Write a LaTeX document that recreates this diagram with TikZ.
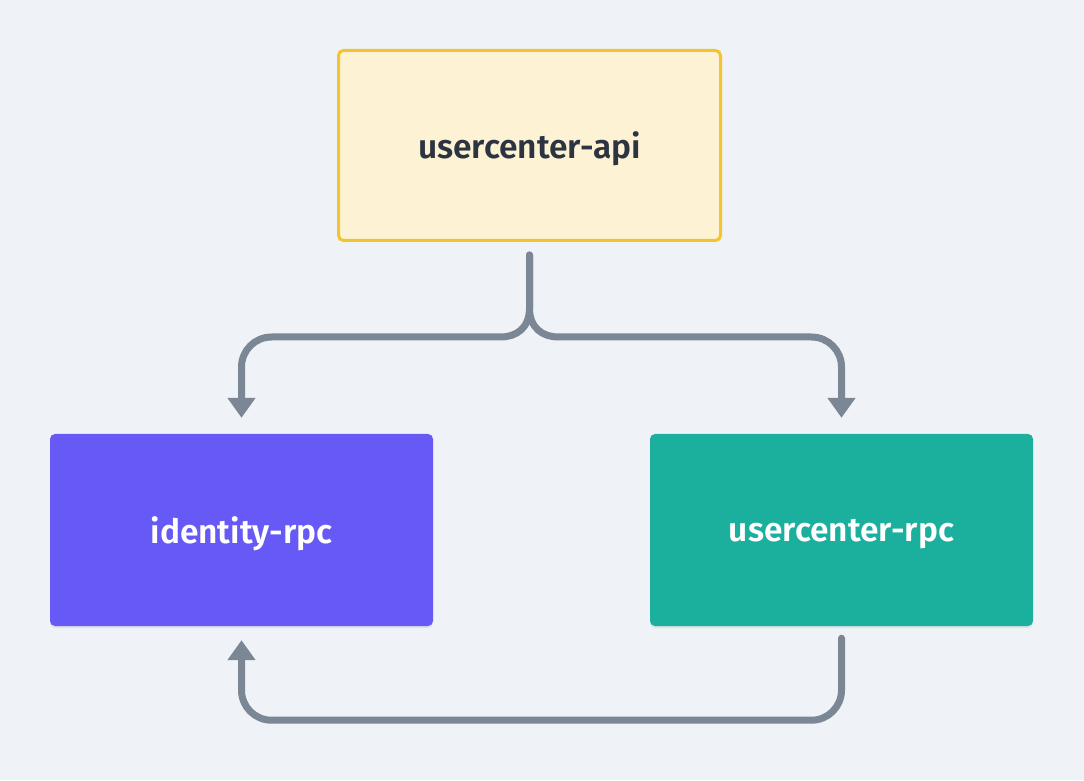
\documentclass[tikz,border=0pt]{standalone}
\usepackage{fontspec}
\setmainfont{Fira Sans}[UprightFont={* SemiBold}]
\usetikzlibrary{arrows.meta,shadows}
\definecolor{bg}{HTML}{EFF3F7}
\definecolor{flowgray}{HTML}{7B8794}
\definecolor{apifill}{HTML}{FDF3D4}
\definecolor{apiborder}{HTML}{F4C430}
\definecolor{idfill}{HTML}{6659F5}
\definecolor{ucfill}{HTML}{1BAF9E}
\definecolor{darktext}{HTML}{2B3440}
\tikzset{
  svc/.style={rectangle, rounded corners=5pt, minimum width=383pt, minimum height=192pt,
    font=\fontsize{33.5}{38}\selectfont, text depth=0pt},
  rpc/.style={svc, text=white, draw=none,
    drop shadow={shadow xshift=0pt, shadow yshift=-2pt, fill=black, opacity=0.07}},
  flow/.style={draw=flowgray, line width=7pt, line cap=round,
    -{Triangle[width=27pt,length=20pt]}}
}
\begin{document}
\begin{tikzpicture}[x=1pt,y=1pt]
      \fill[bg] (0,0) rectangle (1084,780);
      \useasboundingbox (0,0) rectangle (1084,780);
      \draw
        (529.5,634.5) node[svc, fill=apifill, draw=apiborder, line width=3pt,
          minimum width=382pt, minimum height=190pt, text=darktext] (api){usercenter-api}
        (241.5,250) node[rpc, fill=idfill] (identity){identity-rpc}
        (841.5,250) node[rpc, fill=ucfill] (usercenter){usercenter-rpc};
      \begin{scope}[flow]
        \draw[shorten <=13pt, shorten >=16pt] (api.south) -- ++(0,-66)
          .. controls +(0,-20) and +(16,0) .. ++(-29,-29)
          [rounded corners=30pt] -| (identity.north);
        \draw[shorten <=13pt, shorten >=16pt] (api.south) -- ++(0,-66)
          .. controls +(0,-20) and +(-16,0) .. ++(29,-29)
          [rounded corners=30pt] -| (usercenter.north);
        \draw[shorten <=12pt, shorten >=14pt, rounded corners=30pt] (usercenter.south)
          -- ++(0,-94) -| (identity.south);
      \end{scope}
    \end{tikzpicture}
\end{document}
